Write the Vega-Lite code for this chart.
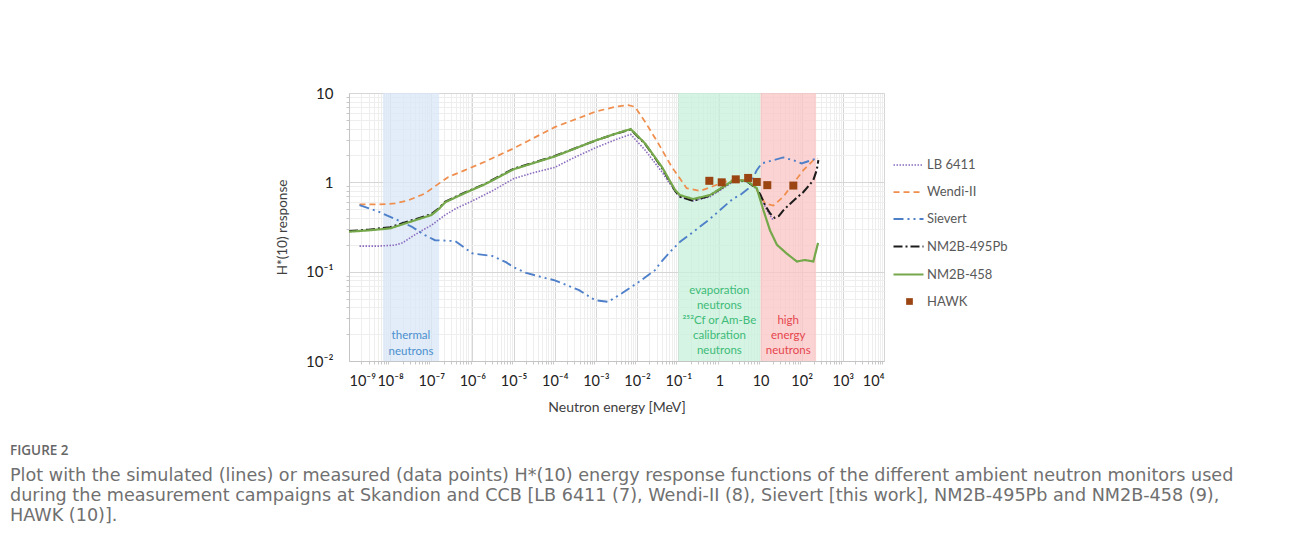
{
  "$schema": "https://vega.github.io/schema/vega-lite/v6.json",
  "autosize": {"type": "none"},
  "padding": {"left": 349, "top": 93, "right": 408, "bottom": 194},
  "width": 535,
  "height": 268,
  "background": "white",
  "title": {
    "text": "FIGURE 2",
    "subtitle": [
      "Plot with the simulated (lines) or measured (data points) H*(10) energy response functions of the different ambient neutron monitors used",
      "during the measurement campaigns at Skandion and CCB [LB 6411 (7), Wendi-II (8), Sievert [this work], NM2B-495Pb and NM2B-458 (9),",
      "HAWK (10)]."
    ],
    "orient": "bottom",
    "anchor": "start",
    "frame": "group",
    "dx": -339,
    "offset": 29,
    "font": "Open Sans",
    "fontSize": 13.5,
    "fontWeight": 600,
    "color": "#666666",
    "subtitleFont": "DejaVu Sans",
    "subtitleFontSize": 17.6,
    "subtitleFontWeight": "normal",
    "subtitleColor": "#707070",
    "subtitleLineHeight": 20,
    "subtitlePadding": 10
  },
  "config": {
    "font": "Lato",
    "view": {"stroke": "#d4d4d4"},
    "axis": {
      "labelFont": "Lato",
      "titleFont": "Lato",
      "labelColor": "#222222",
      "titleColor": "#404040",
      "titleFontWeight": "normal",
      "domainColor": "#c4c4c4",
      "labelOverlap": false,
      "labelBound": false
    }
  },
  "datasets": {
    "bands": [
      {"band": "thermal", "lo": 6.7e-9, "hi": 1.55e-7, "mid": 3.2e-8, "label": "thermal|neutrons"},
      {"band": "evaporation", "lo": 0.1, "hi": 10, "mid": 1, "label": "evaporation|neutrons|²⁵²Cf or Am-Be|calibration|neutrons"},
      {"band": "high", "lo": 10, "hi": 224, "mid": 47, "label": "high|energy|neutrons"}
    ],
    "curves": [
      {"series": "LB 6411", "E": 1.8e-9, "H": 0.193},
      {"series": "LB 6411", "E": 5e-9, "H": 0.193},
      {"series": "LB 6411", "E": 1.3e-8, "H": 0.198},
      {"series": "LB 6411", "E": 2e-8, "H": 0.21},
      {"series": "LB 6411", "E": 3.3e-8, "H": 0.245},
      {"series": "LB 6411", "E": 6e-8, "H": 0.29},
      {"series": "LB 6411", "E": 1e-7, "H": 0.33},
      {"series": "LB 6411", "E": 2.15e-7, "H": 0.43},
      {"series": "LB 6411", "E": 4e-7, "H": 0.51},
      {"series": "LB 6411", "E": 1e-6, "H": 0.62},
      {"series": "LB 6411", "E": 3e-6, "H": 0.8},
      {"series": "LB 6411", "E": 1e-5, "H": 1.1},
      {"series": "LB 6411", "E": 3e-5, "H": 1.28},
      {"series": "LB 6411", "E": 1e-4, "H": 1.47},
      {"series": "LB 6411", "E": 3e-4, "H": 1.9},
      {"series": "LB 6411", "E": 1e-3, "H": 2.45},
      {"series": "LB 6411", "E": 3e-3, "H": 3.0},
      {"series": "LB 6411", "E": 7e-3, "H": 3.44},
      {"series": "LB 6411", "E": 0.0156, "H": 2.3},
      {"series": "LB 6411", "E": 0.04, "H": 1.31},
      {"series": "LB 6411", "E": 0.08, "H": 0.82},
      {"series": "LB 6411", "E": 0.11, "H": 0.69},
      {"series": "LB 6411", "E": 0.23, "H": 0.62},
      {"series": "LB 6411", "E": 0.59, "H": 0.69},
      {"series": "LB 6411", "E": 1.25, "H": 0.86},
      {"series": "LB 6411", "E": 2.2, "H": 1.02},
      {"series": "LB 6411", "E": 4.6, "H": 1.02},
      {"series": "LB 6411", "E": 8.1, "H": 0.84},
      {"series": "LB 6411", "E": 11, "H": 0.62},
      {"series": "LB 6411", "E": 15, "H": 0.47},
      {"series": "LB 6411", "E": 20, "H": 0.38},

      {"series": "Wendi-II", "E": 1.8e-9, "H": 0.565},
      {"series": "Wendi-II", "E": 5e-9, "H": 0.565},
      {"series": "Wendi-II", "E": 1.3e-8, "H": 0.58},
      {"series": "Wendi-II", "E": 2.8e-8, "H": 0.63},
      {"series": "Wendi-II", "E": 7e-8, "H": 0.75},
      {"series": "Wendi-II", "E": 1.35e-7, "H": 0.93},
      {"series": "Wendi-II", "E": 2.6e-7, "H": 1.15},
      {"series": "Wendi-II", "E": 6.6e-7, "H": 1.37},
      {"series": "Wendi-II", "E": 2e-6, "H": 1.7},
      {"series": "Wendi-II", "E": 1e-5, "H": 2.4},
      {"series": "Wendi-II", "E": 1e-4, "H": 4.15},
      {"series": "Wendi-II", "E": 1e-3, "H": 6.2},
      {"series": "Wendi-II", "E": 2.9e-3, "H": 7.0},
      {"series": "Wendi-II", "E": 6.1e-3, "H": 7.33},
      {"series": "Wendi-II", "E": 8.9e-3, "H": 7.0},
      {"series": "Wendi-II", "E": 0.0156, "H": 4.77},
      {"series": "Wendi-II", "E": 0.0328, "H": 2.73},
      {"series": "Wendi-II", "E": 0.0695, "H": 1.49},
      {"series": "Wendi-II", "E": 0.16, "H": 0.86},
      {"series": "Wendi-II", "E": 0.34, "H": 0.8},
      {"series": "Wendi-II", "E": 0.6, "H": 0.88},
      {"series": "Wendi-II", "E": 1.2, "H": 1.0},
      {"series": "Wendi-II", "E": 2.5, "H": 1.08},
      {"series": "Wendi-II", "E": 5, "H": 1.05},
      {"series": "Wendi-II", "E": 8.1, "H": 0.82},
      {"series": "Wendi-II", "E": 13, "H": 0.58},
      {"series": "Wendi-II", "E": 20.5, "H": 0.55},
      {"series": "Wendi-II", "E": 35.6, "H": 0.69},
      {"series": "Wendi-II", "E": 62, "H": 0.97},
      {"series": "Wendi-II", "E": 110, "H": 1.37},
      {"series": "Wendi-II", "E": 192, "H": 1.77},
      {"series": "Wendi-II", "E": 250, "H": 1.85},

      {"series": "Sievert", "E": 1.8e-9, "H": 0.555},
      {"series": "Sievert", "E": 5.2e-9, "H": 0.47},
      {"series": "Sievert", "E": 1.3e-8, "H": 0.39},
      {"series": "Sievert", "E": 3.3e-8, "H": 0.32},
      {"series": "Sievert", "E": 7e-8, "H": 0.256},
      {"series": "Sievert", "E": 1.23e-7, "H": 0.225},
      {"series": "Sievert", "E": 3.8e-7, "H": 0.22},
      {"series": "Sievert", "E": 1e-6, "H": 0.16},
      {"series": "Sievert", "E": 3e-6, "H": 0.15},
      {"series": "Sievert", "E": 6.5e-6, "H": 0.128},
      {"series": "Sievert", "E": 1e-5, "H": 0.112},
      {"series": "Sievert", "E": 2e-5, "H": 0.097},
      {"series": "Sievert", "E": 6.4e-5, "H": 0.084},
      {"series": "Sievert", "E": 1e-4, "H": 0.08},
      {"series": "Sievert", "E": 3.9e-4, "H": 0.062},
      {"series": "Sievert", "E": 9.5e-4, "H": 0.048},
      {"series": "Sievert", "E": 2e-3, "H": 0.046},
      {"series": "Sievert", "E": 4.2e-3, "H": 0.057},
      {"series": "Sievert", "E": 0.0107, "H": 0.076},
      {"series": "Sievert", "E": 0.0273, "H": 0.104},
      {"series": "Sievert", "E": 0.036, "H": 0.124},
      {"series": "Sievert", "E": 0.063, "H": 0.166},
      {"series": "Sievert", "E": 0.111, "H": 0.216},
      {"series": "Sievert", "E": 0.233, "H": 0.279},
      {"series": "Sievert", "E": 0.59, "H": 0.39},
      {"series": "Sievert", "E": 1.04, "H": 0.49},
      {"series": "Sievert", "E": 2.18, "H": 0.66},
      {"series": "Sievert", "E": 3.2, "H": 0.72},
      {"series": "Sievert", "E": 5, "H": 0.85},
      {"series": "Sievert", "E": 8.1, "H": 1.37},
      {"series": "Sievert", "E": 10.7, "H": 1.63},
      {"series": "Sievert", "E": 20.5, "H": 1.77},
      {"series": "Sievert", "E": 35.6, "H": 1.9},
      {"series": "Sievert", "E": 62, "H": 1.77},
      {"series": "Sievert", "E": 100, "H": 1.63},
      {"series": "Sievert", "E": 132, "H": 1.7},
      {"series": "Sievert", "E": 233, "H": 1.85},

      {"series": "NM2B-495Pb", "E": 1e-9, "H": 0.285},
      {"series": "NM2B-495Pb", "E": 3e-9, "H": 0.295},
      {"series": "NM2B-495Pb", "E": 1e-8, "H": 0.315},
      {"series": "NM2B-495Pb", "E": 3e-8, "H": 0.37},
      {"series": "NM2B-495Pb", "E": 1e-7, "H": 0.44},
      {"series": "NM2B-495Pb", "E": 1.5e-7, "H": 0.51},
      {"series": "NM2B-495Pb", "E": 2.2e-7, "H": 0.61},
      {"series": "NM2B-495Pb", "E": 6.6e-7, "H": 0.77},
      {"series": "NM2B-495Pb", "E": 2e-6, "H": 0.96},
      {"series": "NM2B-495Pb", "E": 1e-5, "H": 1.42},
      {"series": "NM2B-495Pb", "E": 1e-4, "H": 1.97},
      {"series": "NM2B-495Pb", "E": 1e-3, "H": 2.95},
      {"series": "NM2B-495Pb", "E": 3e-3, "H": 3.5},
      {"series": "NM2B-495Pb", "E": 7e-3, "H": 3.9},
      {"series": "NM2B-495Pb", "E": 0.0156, "H": 2.7},
      {"series": "NM2B-495Pb", "E": 0.04, "H": 1.46},
      {"series": "NM2B-495Pb", "E": 0.084, "H": 0.8},
      {"series": "NM2B-495Pb", "E": 0.11, "H": 0.69},
      {"series": "NM2B-495Pb", "E": 0.23, "H": 0.62},
      {"series": "NM2B-495Pb", "E": 0.59, "H": 0.71},
      {"series": "NM2B-495Pb", "E": 1.25, "H": 0.89},
      {"series": "NM2B-495Pb", "E": 2.2, "H": 1.05},
      {"series": "NM2B-495Pb", "E": 4.6, "H": 1.03},
      {"series": "NM2B-495Pb", "E": 8.1, "H": 0.85},
      {"series": "NM2B-495Pb", "E": 10, "H": 0.72},
      {"series": "NM2B-495Pb", "E": 13, "H": 0.55},
      {"series": "NM2B-495Pb", "E": 17, "H": 0.45},
      {"series": "NM2B-495Pb", "E": 22, "H": 0.4},
      {"series": "NM2B-495Pb", "E": 28, "H": 0.42},
      {"series": "NM2B-495Pb", "E": 35, "H": 0.48},
      {"series": "NM2B-495Pb", "E": 47, "H": 0.55},
      {"series": "NM2B-495Pb", "E": 70, "H": 0.65},
      {"series": "NM2B-495Pb", "E": 110, "H": 0.78},
      {"series": "NM2B-495Pb", "E": 150, "H": 0.92},
      {"series": "NM2B-495Pb", "E": 192, "H": 1.06},
      {"series": "NM2B-495Pb", "E": 232, "H": 1.37},
      {"series": "NM2B-495Pb", "E": 254, "H": 1.77},

      {"series": "NM2B-458", "E": 1e-9, "H": 0.28},
      {"series": "NM2B-458", "E": 3e-9, "H": 0.29},
      {"series": "NM2B-458", "E": 1e-8, "H": 0.305},
      {"series": "NM2B-458", "E": 3e-8, "H": 0.36},
      {"series": "NM2B-458", "E": 1e-7, "H": 0.43},
      {"series": "NM2B-458", "E": 1.5e-7, "H": 0.5},
      {"series": "NM2B-458", "E": 2.2e-7, "H": 0.6},
      {"series": "NM2B-458", "E": 6.6e-7, "H": 0.76},
      {"series": "NM2B-458", "E": 2e-6, "H": 0.95},
      {"series": "NM2B-458", "E": 1e-5, "H": 1.4},
      {"series": "NM2B-458", "E": 1e-4, "H": 1.95},
      {"series": "NM2B-458", "E": 1e-3, "H": 2.95},
      {"series": "NM2B-458", "E": 3e-3, "H": 3.5},
      {"series": "NM2B-458", "E": 7e-3, "H": 3.95},
      {"series": "NM2B-458", "E": 0.0156, "H": 2.73},
      {"series": "NM2B-458", "E": 0.04, "H": 1.49},
      {"series": "NM2B-458", "E": 0.084, "H": 0.82},
      {"series": "NM2B-458", "E": 0.11, "H": 0.72},
      {"series": "NM2B-458", "E": 0.23, "H": 0.65},
      {"series": "NM2B-458", "E": 0.59, "H": 0.72},
      {"series": "NM2B-458", "E": 1.25, "H": 0.89},
      {"series": "NM2B-458", "E": 2.2, "H": 1.06},
      {"series": "NM2B-458", "E": 4.6, "H": 1.04},
      {"series": "NM2B-458", "E": 8.1, "H": 0.86},
      {"series": "NM2B-458", "E": 11.7, "H": 0.49},
      {"series": "NM2B-458", "E": 17, "H": 0.29},
      {"series": "NM2B-458", "E": 25, "H": 0.2},
      {"series": "NM2B-458", "E": 43, "H": 0.16},
      {"series": "NM2B-458", "E": 76, "H": 0.13},
      {"series": "NM2B-458", "E": 120, "H": 0.135},
      {"series": "NM2B-458", "E": 192, "H": 0.13},
      {"series": "NM2B-458", "E": 250, "H": 0.21}
    ],
    "hawk": [
      {"series": "HAWK", "E": 0.57, "H": 1.04},
      {"series": "HAWK", "E": 1.14, "H": 1.0},
      {"series": "HAWK", "E": 2.5, "H": 1.08},
      {"series": "HAWK", "E": 5.0, "H": 1.12},
      {"series": "HAWK", "E": 8.1, "H": 1.01},
      {"series": "HAWK", "E": 14.6, "H": 0.93},
      {"series": "HAWK", "E": 62.7, "H": 0.92}
    ]
  },
  "layer": [
    {
      "data": {"name": "bands"},
      "mark": {"type": "rect", "fillOpacity": 0.75},
      "encoding": {
        "x": {"field": "lo", "type": "quantitative", "scale": {"type": "log", "domain": [1e-9, 10000]}},
        "x2": {"field": "hi"},
        "fill": {
          "field": "band",
          "type": "nominal",
          "scale": {"domain": ["thermal", "evaporation", "high"], "range": ["#d8e7f7", "#c7f0da", "#fbc4c4"]},
          "legend": null
        }
      }
    },
    {
      "data": {"name": "bands"},
      "transform": [{"filter": "datum.band == 'thermal'"}],
      "mark": {"type": "text", "font": "Lato", "fontSize": 11.5, "lineBreak": "|", "lineHeight": 16, "baseline": "middle", "align": "center", "color": "#4b8fcf"},
      "encoding": {
        "x": {"field": "mid", "type": "quantitative", "scale": {"type": "log", "domain": [1e-9, 10000]}},
        "y": {"datum": 0.0189, "type": "quantitative", "scale": {"type": "log", "domain": [0.01, 10]}},
        "text": {"field": "label", "type": "nominal"}
      }
    },
    {
      "data": {"name": "bands"},
      "transform": [{"filter": "datum.band == 'evaporation'"}],
      "mark": {"type": "text", "font": "Lato", "fontSize": 11.5, "lineBreak": "|", "lineHeight": 15, "baseline": "middle", "align": "center", "color": "#3dbb78"},
      "encoding": {
        "x": {"field": "mid", "type": "quantitative", "scale": {"type": "log", "domain": [1e-9, 10000]}},
        "y": {"datum": 0.0603, "type": "quantitative", "scale": {"type": "log", "domain": [0.01, 10]}},
        "text": {"field": "label", "type": "nominal"}
      }
    },
    {
      "data": {"name": "bands"},
      "transform": [{"filter": "datum.band == 'high'"}],
      "mark": {"type": "text", "font": "Lato", "fontSize": 11.5, "lineBreak": "|", "lineHeight": 15, "baseline": "middle", "align": "center", "color": "#e5454d"},
      "encoding": {
        "x": {"field": "mid", "type": "quantitative", "scale": {"type": "log", "domain": [1e-9, 10000]}},
        "y": {"datum": 0.0278, "type": "quantitative", "scale": {"type": "log", "domain": [0.01, 10]}},
        "text": {"field": "label", "type": "nominal"}
      }
    },
    {
      "data": {"name": "curves"},
      "mark": {"type": "line", "strokeCap": "butt"},
      "encoding": {
        "x": {
          "field": "E",
          "type": "quantitative",
          "scale": {"type": "log", "domain": [1e-9, 10000]},
          "axis": {
            "title": "Neutron energy [MeV]",
            "titleFontSize": 14,
            "titlePadding": 10,
            "labelFontSize": 14.5,
            "labelPadding": 13,
            "grid": true,
            "gridColor": {"condition": {"test": "abs(log(datum.value)/LN10 - round(log(datum.value)/LN10)) < 0.001", "value": "#d6d6d6"}, "value": "#eeeeee"},
            "tickColor": "#c8c8c8",
            "tickSize": {"condition": {"test": "abs(log(datum.value)/LN10 - round(log(datum.value)/LN10)) < 0.001", "value": 0}, "value": 3},
            "values": [1e-9, 2e-9, 3e-9, 4e-9, 5e-9, 6e-9, 7e-9, 8e-9, 9e-9,
              1e-8, 2e-8, 3e-8, 4e-8, 5e-8, 6e-8, 7e-8, 8e-8, 9e-8,
              1e-7, 2e-7, 3e-7, 4e-7, 5e-7, 6e-7, 7e-7, 8e-7, 9e-7,
              1e-6, 2e-6, 3e-6, 4e-6, 5e-6, 6e-6, 7e-6, 8e-6, 9e-6,
              1e-5, 2e-5, 3e-5, 4e-5, 5e-5, 6e-5, 7e-5, 8e-5, 9e-5,
              1e-4, 2e-4, 3e-4, 4e-4, 5e-4, 6e-4, 7e-4, 8e-4, 9e-4,
              0.001, 0.002, 0.003, 0.004, 0.005, 0.006, 0.007, 0.008, 0.009,
              0.01, 0.02, 0.03, 0.04, 0.05, 0.06, 0.07, 0.08, 0.09,
              0.1, 0.2, 0.3, 0.4, 0.5, 0.6, 0.7, 0.8, 0.9,
              1, 2, 3, 4, 5, 6, 7, 8, 9,
              10, 20, 30, 40, 50, 60, 70, 80, 90,
              100, 200, 300, 400, 500, 600, 700, 800, 900,
              1000, 2000, 3000, 4000, 5000, 6000, 7000, 8000, 9000, 10000],
            "labelExpr": "abs(log(datum.value)/LN10 - round(log(datum.value)/LN10)) > 0.001 ? '' : ['10⁻⁹','10⁻⁸','10⁻⁷','10⁻⁶','10⁻⁵','10⁻⁴','10⁻³','10⁻²','10⁻¹','1','10','10²','10³','10⁴'][round(log(datum.value)/LN10) + 9]"
          }
        },
        "y": {
          "field": "H",
          "type": "quantitative",
          "scale": {"type": "log", "domain": [0.01, 10]},
          "axis": {
            "title": "H*(10) response",
            "titleFontSize": 13.5,
            "titlePadding": 16,
            "labelFontSize": 15,
            "labelPadding": 16,
            "grid": true,
            "gridColor": {"condition": {"test": "abs(log(datum.value)/LN10 - round(log(datum.value)/LN10)) < 0.001", "value": "#d6d6d6"}, "value": "#eeeeee"},
            "tickColor": "#c8c8c8",
            "tickSize": {"condition": {"test": "abs(log(datum.value)/LN10 - round(log(datum.value)/LN10)) < 0.001", "value": 0}, "value": 3},
            "values": [0.01, 0.02, 0.03, 0.04, 0.05, 0.06, 0.07, 0.08, 0.09,
              0.1, 0.2, 0.3, 0.4, 0.5, 0.6, 0.7, 0.8, 0.9,
              1, 2, 3, 4, 5, 6, 7, 8, 9, 10],
            "labelExpr": "abs(log(datum.value)/LN10 - round(log(datum.value)/LN10)) > 0.001 ? '' : ['10⁻²','10⁻¹','1','10'][round(log(datum.value)/LN10) + 2]"
          }
        },
        "color": {
          "field": "series",
          "type": "nominal",
          "scale": {
            "domain": ["LB 6411", "Wendi-II", "Sievert", "NM2B-495Pb", "NM2B-458"],
            "range": ["#8b6bbf", "#ef8e4d", "#4e7fc9", "#1c1c1c", "#74a84a"]
          },
          "legend": {
            "orient": "none",
            "legendX": 543,
            "legendY": 56,
            "title": null,
            "symbolType": "stroke",
            "symbolSize": 900,
            "symbolStrokeWidth": 1.8,
            "labelFont": "Lato",
            "labelFontSize": 13,
            "labelColor": "#595959",
            "labelOffset": 2,
            "rowPadding": 4
          }
        },
        "strokeDash": {
          "field": "series",
          "type": "nominal",
          "scale": {
            "domain": ["LB 6411", "Wendi-II", "Sievert", "NM2B-495Pb", "NM2B-458"],
            "range": [[1.5, 1.5], [6, 4], [10, 4, 2, 4, 2, 4], [9, 3, 2, 3], [1, 0]]
          },
          "legend": {
            "orient": "none",
            "legendX": 543,
            "legendY": 56,
            "title": null,
            "symbolType": "stroke",
            "symbolSize": 900,
            "symbolStrokeWidth": 1.8,
            "labelFont": "Lato",
            "labelFontSize": 13,
            "labelColor": "#595959",
            "labelOffset": 2,
            "rowPadding": 4
          }
        },
        "strokeWidth": {
          "field": "series",
          "type": "nominal",
          "scale": {
            "domain": ["LB 6411", "Wendi-II", "Sievert", "NM2B-495Pb", "NM2B-458"],
            "range": [1.6, 2.2, 2.2, 2.2, 2]
          },
          "legend": null
        }
      }
    },
    {
      "data": {"name": "hawk"},
      "mark": {"type": "point", "filled": true, "opacity": 1, "color": "#9a4512"},
      "encoding": {
        "x": {"field": "E", "type": "quantitative", "scale": {"type": "log", "domain": [1e-9, 10000]}},
        "y": {"field": "H", "type": "quantitative", "scale": {"type": "log", "domain": [0.01, 10]}},
        "shape": {
          "field": "series",
          "type": "nominal",
          "scale": {"domain": ["HAWK"], "range": ["square"]},
          "legend": {
            "orient": "none",
            "legendX": 554,
            "legendY": 202,
            "title": null,
            "symbolSize": 45,
            "symbolFillColor": "#9a4512",
            "symbolStrokeWidth": 0,
            "labelFont": "Lato",
            "labelFontSize": 13,
            "labelColor": "#595959",
            "labelOffset": 11
          }
        },
        "size": {"value": 64}
      }
    }
  ]
}
